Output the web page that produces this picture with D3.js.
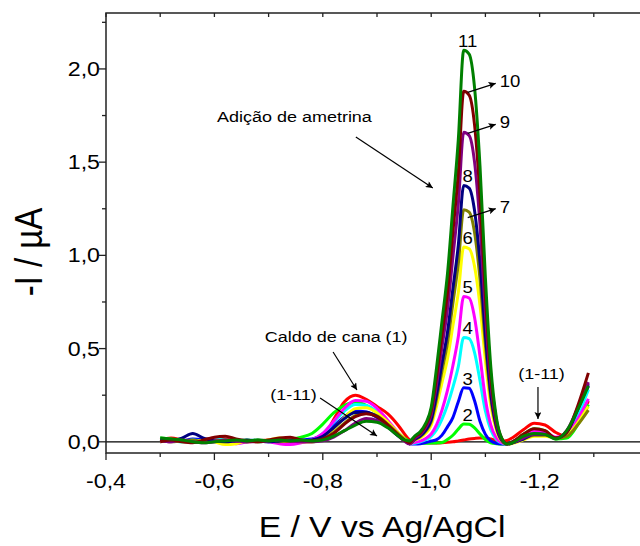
<!DOCTYPE html>
<html>
<head>
<meta charset="utf-8">
<script src="https://cdn.jsdelivr.net/npm/d3@7"></script>
<style>
body { margin: 0; background: #fff; }
text { font-family: "Liberation Sans", Arial, sans-serif; fill: #000; }
</style>
</head>
<body>
<script>

var width = 640, height = 546;
// the source figure is a bit wider than tall, so text is stretched sideways
var stretch = 1.16;

// potential grid (V vs Ag/AgCl)
var potential = [-0.50, -0.52, -0.54, -0.56, -0.58, -0.60, -0.62, -0.64, -0.66, -0.68,
    -0.70, -0.72, -0.74, -0.76, -0.78, -0.80, -0.82, -0.84, -0.86, -0.88,
    -0.90, -0.92, -0.94, -0.95, -0.96, -0.97, -0.98, -0.99, -1.00, -1.01,
    -1.02, -1.03, -1.04, -1.05, -1.06, -1.07, -1.08, -1.09, -1.10, -1.11,
    -1.12, -1.13, -1.14, -1.15, -1.17, -1.19, -1.21, -1.23, -1.25, -1.27, -1.29];

// -I (uA), one list per addition
var curve1 = [0.01, 0.02, 0.01, 0.0, 0.01, 0.02, 0.015, 0.005, 0.0, 0.005,
    0.01, 0.005, 0.0, 0.0, 0.0, 0.02, 0.12, 0.215, 0.25, 0.228,
    0.19, 0.15, 0.085, 0.045, 0.01, -0.003, -0.005, -0.005, -0.006, -0.006,
    -0.005, -0.003, 0.0, 0.005, 0.01, 0.015, 0.018, 0.02, 0.02, 0.015,
    0.008, 0.004, 0.008, 0.022, 0.065, 0.1, 0.09, 0.05, 0.03, 0.1, 0.22];
var curve2 = [0.02, 0.015, 0.0, 0.005, 0.01, 0.005, 0.0, 0.005, 0.01, 0.0,
    0.005, 0.01, 0.015, 0.025, 0.045, 0.095, 0.155, 0.195, 0.212, 0.195,
    0.155, 0.1, 0.045, 0.02, 0.003, -0.005, -0.008, -0.008, -0.007, -0.006,
    -0.004, 0.012, 0.035, 0.068, 0.095, 0.094, 0.075, 0.042, 0.012, -0.005,
    -0.01, -0.012, -0.01, 0.0, 0.04, 0.07, 0.06, 0.015, 0.02, 0.09, 0.2];
var curve3 = [0.0, 0.01, 0.005, 0.015, 0.01, 0.0, 0.005, 0.01, 0.0, 0.005,
    0.0, 0.01, 0.005, 0.01, 0.015, 0.04, 0.085, 0.135, 0.165, 0.16,
    0.13, 0.08, 0.03, 0.01, -0.01, -0.012, -0.01, -0.004, 0.004, 0.012,
    0.036, 0.08, 0.13, 0.215, 0.29, 0.287, 0.22, 0.11, 0.04, 0.005,
    -0.008, -0.012, -0.01, 0.0, 0.03, 0.05, 0.045, 0.02, 0.04, 0.15, 0.3];
var curve4 = [0.015, 0.005, 0.0, 0.01, 0.005, 0.015, 0.01, 0.0, 0.005, 0.01,
    0.005, 0.0, 0.01, 0.005, 0.01, 0.045, 0.105, 0.165, 0.2, 0.195,
    0.16, 0.1, 0.04, 0.012, -0.01, -0.008, 0.0, 0.011, 0.029, 0.065,
    0.121, 0.197, 0.292, 0.403, 0.56, 0.553, 0.479, 0.329, 0.165, 0.064,
    0.014, -0.006, -0.012, -0.005, 0.03, 0.055, 0.05, 0.02, 0.04, 0.14, 0.28];
var curve5 = [0.005, 0.0, 0.01, 0.005, 0.0, 0.01, 0.0, -0.01, 0.0, 0.005,
    0.0, -0.01, -0.015, -0.005, 0.01, 0.045, 0.11, 0.18, 0.222, 0.218,
    0.18, 0.115, 0.045, 0.015, -0.01, -0.003, 0.004, 0.018, 0.042, 0.092,
    0.171, 0.276, 0.408, 0.563, 0.78, 0.771, 0.667, 0.459, 0.23, 0.09,
    0.022, -0.005, -0.012, -0.005, 0.035, 0.06, 0.05, 0.025, 0.04, 0.12, 0.23];
var curve6 = [0.0, 0.01, 0.005, 0.0, 0.01, 0.0, -0.015, -0.01, 0.005, 0.0,
    0.01, 0.02, 0.01, 0.0, 0.005, 0.025, 0.07, 0.13, 0.178, 0.183,
    0.155, 0.105, 0.045, 0.018, -0.01, 0.01, 0.022, 0.046, 0.089, 0.193,
    0.319, 0.444, 0.622, 0.8, 1.045, 1.035, 0.941, 0.732, 0.434, 0.193,
    0.065, 0.005, -0.012, -0.008, 0.01, 0.03, 0.03, 0.02, 0.035, 0.1, 0.19];
var curve7 = [0.01, 0.0, 0.005, 0.01, 0.0, 0.005, 0.01, 0.005, 0.0, 0.01,
    0.005, 0.0, 0.005, 0.0, 0.0, 0.015, 0.05, 0.1, 0.14, 0.155,
    0.14, 0.095, 0.04, 0.015, -0.01, 0.012, 0.028, 0.057, 0.107, 0.23,
    0.381, 0.53, 0.742, 0.954, 1.245, 1.232, 1.122, 0.873, 0.518, 0.232,
    0.078, 0.008, -0.012, -0.005, 0.015, 0.035, 0.035, 0.02, 0.03, 0.09, 0.17];
var curve8 = [0.01, 0.005, 0.02, 0.045, 0.02, 0.005, 0.0, 0.005, 0.01, 0.005,
    0.0, 0.005, 0.01, 0.005, 0.01, 0.03, 0.075, 0.125, 0.157, 0.158,
    0.135, 0.085, 0.032, 0.01, -0.01, 0.015, 0.032, 0.063, 0.118, 0.255,
    0.421, 0.586, 0.82, 1.054, 1.375, 1.361, 1.24, 0.964, 0.572, 0.256,
    0.087, 0.01, -0.012, -0.005, 0.015, 0.04, 0.04, 0.02, 0.05, 0.17, 0.31];
var curve9 = [0.005, 0.0, 0.01, 0.0, -0.005, 0.0, 0.01, 0.005, 0.0, 0.0,
    0.005, 0.01, 0.005, 0.0, 0.0, 0.005, 0.025, 0.06, 0.1, 0.125,
    0.115, 0.08, 0.03, 0.005, -0.012, 0.02, 0.04, 0.078, 0.145, 0.31,
    0.51, 0.71, 0.99, 1.275, 1.66, 1.643, 1.5, 1.165, 0.69, 0.31,
    0.105, 0.015, -0.012, -0.005, 0.02, 0.04, 0.04, 0.02, 0.06, 0.18, 0.32];
var curve10 = [0.0, 0.01, 0.0, -0.005, 0.01, 0.025, 0.03, 0.015, 0.005, 0.0,
    0.01, 0.02, 0.025, 0.01, 0.005, 0.015, 0.045, 0.095, 0.135, 0.15,
    0.135, 0.09, 0.035, 0.01, -0.005, 0.028, 0.048, 0.09, 0.165, 0.352,
    0.578, 0.8, 1.125, 1.443, 1.88, 1.86, 1.7, 1.32, 0.785, 0.352,
    0.12, 0.02, -0.01, 0.0, 0.04, 0.07, 0.06, 0.02, 0.05, 0.19, 0.37];
var curve11 = [0.02, 0.015, 0.01, 0.0, -0.005, 0.0, 0.005, 0.01, 0.005, 0.01,
    0.005, 0.01, 0.005, 0.01, 0.005, 0.01, 0.03, 0.06, 0.09, 0.11,
    0.105, 0.075, 0.03, 0.01, 0.005, 0.032, 0.055, 0.1, 0.185, 0.4,
    0.65, 0.9, 1.26, 1.62, 2.1, 2.08, 1.9, 1.48, 0.88, 0.4,
    0.135, 0.02, -0.012, -0.005, 0.03, 0.045, 0.04, 0.015, 0.06, 0.17, 0.3];

var curves = [curve1, curve2, curve3, curve4, curve5, curve6, curve7, curve8, curve9, curve10, curve11];
var curveNames = ["1", "2", "3", "4", "5", "6", "7", "8", "9", "10", "11"];
var curveColors = ["#ff0000", "#00ff00", "#0000ff", "#00ffff", "#ff00ff", "#ffff00",
    "#808000", "#000080", "#800080", "#800000", "#008000"];

var xTicks = [-0.4, -0.6, -0.8, -1.0, -1.2, -1.4];
var xMinorTicks = [-0.5, -0.7, -0.9, -1.1, -1.3];
var yTicks = [0.0, 0.5, 1.0, 1.5, 2.0];
var yMinorTicks = [0.25, 0.75, 1.25, 1.75, 2.25];

var x = d3.scaleLinear().domain([-0.4, -1.4]).range([106, 648]);
var y = d3.scaleLinear().domain([-0.06, 2.3]).range([453, 13]);

var pt = d3.formatLocale({decimal: ",", thousands: ".", grouping: [3], currency: ["", ""], minus: "-"});
var fmt = pt.format(".1f");

var svg = d3.select("body").append("svg")
    .attr("width", width)
    .attr("height", height)
    .style("display", "block");

var defs = svg.append("defs");
defs.append("marker")
    .attr("id", "head")
    .attr("markerUnits", "userSpaceOnUse")
    .attr("viewBox", "0 0 10 10")
    .attr("refX", 10).attr("refY", 5)
    .attr("markerWidth", 10).attr("markerHeight", 7)
    .attr("orient", "auto")
  .append("path")
    .attr("d", "M0,0 L10,5 L0,10 L2,5 z")
    .style("fill", "black");

function label(px, py, str, size, anchor) {
    return svg.append("text")
        .attr("transform", "translate(" + px + "," + py + ") scale(" + stretch + ",1)")
        .attr("text-anchor", anchor || "start")
        .style("font-size", size + "px")
        .text(str);
}

function arrow(x1, y1, x2, y2) {
    svg.append("line")
        .attr("x1", x1).attr("y1", y1)
        .attr("x2", x2).attr("y2", y2)
        .style("stroke", "black")
        .style("stroke-width", 1.2)
        .attr("marker-end", "url(#head)");
}

// zero line
svg.append("line")
    .attr("x1", x(-0.4)).attr("x2", x(-1.4))
    .attr("y1", y(0)).attr("y2", y(0))
    .style("stroke", "black")
    .style("stroke-width", 1.3);

// curves
var line = d3.line()
    .x(function(d, i) { return x(potential[i]); })
    .y(function(d) { return y(d); })
    .curve(d3.curveMonotoneX);

svg.selectAll(".trace")
    .data(curves)
    .enter().append("path")
    .attr("class", "trace")
    .attr("d", line)
    .style("fill", "none")
    .style("stroke", function(d, i) { return curveColors[i]; })
    .style("stroke-width", 3)
    .style("stroke-linejoin", "round");

// frame
svg.append("rect")
    .attr("x", x(-0.4)).attr("y", y(2.3))
    .attr("width", x(-1.4) - x(-0.4))
    .attr("height", y(-0.06) - y(2.3))
    .style("fill", "none")
    .style("stroke", "#222")
    .style("stroke-width", 1.5);

// bottom axis ticks
var bottomAxis = svg.append("g").attr("transform", "translate(0," + y(-0.06) + ")");
bottomAxis.selectAll(".maj").data(xTicks).enter().append("line")
    .attr("x1", x).attr("x2", x).attr("y1", 0).attr("y2", 7)
    .style("stroke", "#222").style("stroke-width", 1.3);
bottomAxis.selectAll(".min").data(xMinorTicks).enter().append("line")
    .attr("x1", x).attr("x2", x).attr("y1", 0).attr("y2", 4)
    .style("stroke", "#222").style("stroke-width", 1.3);
xTicks.forEach(function(v) {
    if (x(v) < width) label(x(v), y(-0.06) + 35, fmt(v), 20, "middle");
});

// top axis ticks (inward)
var topAxis = svg.append("g").attr("transform", "translate(0," + y(2.3) + ")");
topAxis.selectAll("line").data(xTicks.concat(xMinorTicks)).enter().append("line")
    .attr("x1", x).attr("x2", x).attr("y1", 0).attr("y2", 4)
    .style("stroke", "#222").style("stroke-width", 1.3);

// left axis ticks
var leftAxis = svg.append("g").attr("transform", "translate(" + x(-0.4) + ",0)");
leftAxis.selectAll(".maj").data(yTicks).enter().append("line")
    .attr("y1", y).attr("y2", y).attr("x1", 0).attr("x2", -7)
    .style("stroke", "#222").style("stroke-width", 1.3);
leftAxis.selectAll(".min").data(yMinorTicks).enter().append("line")
    .attr("y1", y).attr("y2", y).attr("x1", 0).attr("x2", -4)
    .style("stroke", "#222").style("stroke-width", 1.3);
yTicks.forEach(function(v) {
    label(x(-0.4) - 6, y(v) + 7, fmt(v), 20, "end");
});

// axis titles
label(382, 537, "E / V vs Ag/AgCl", 29, "middle");
svg.append("text")
    .attr("transform", "translate(42,252) scale(" + stretch + ",1) rotate(-90)")
    .attr("text-anchor", "middle")
    .style("font-size", "33px")
    .text("-I / \u00b5A");

// peak numbers, placed on the main (ametrine) peak of each curve
var first = potential.indexOf(-1.0), last = potential.indexOf(-1.12);
curves.forEach(function(c, i) {
    if (i == 0) return;
    var k = first + d3.maxIndex(c.slice(first, last + 1));
    var px = x(potential[k]) + 4, py = y(c[k]);
    var name = curveNames[i];
    if (name == "7" || name == "9" || name == "10") {
        var dy = name == "7" ? 8 : 1;
        arrow(px, py + dy, px + 28, py + dy - 9);
        label(px + 32, py + dy - 5, name, 16, "start");
    } else {
        label(px, py - 3, name, 16, "middle");
    }
});

// annotations
label(x(-0.605), y(1.715), "Adi\u00e7\u00e3o de ametrina", 15.5, "start");
arrow(x(-0.861), y(1.635), x(-1.003), y(1.361));

label(x(-0.693), y(0.535), "Caldo de cana (1)", 15.5, "start");
arrow(x(-0.819), y(0.482), x(-0.863), y(0.278));

label(x(-0.703), y(0.224), "(1-11)", 15.5, "start");
arrow(x(-0.795), y(0.235), x(-0.9), y(0.031));

label(x(-1.2035), y(0.337), "(1-11)", 15.5, "middle");
arrow(x(-1.197), y(0.294), x(-1.197), y(0.122));

</script>
</body>
</html>
